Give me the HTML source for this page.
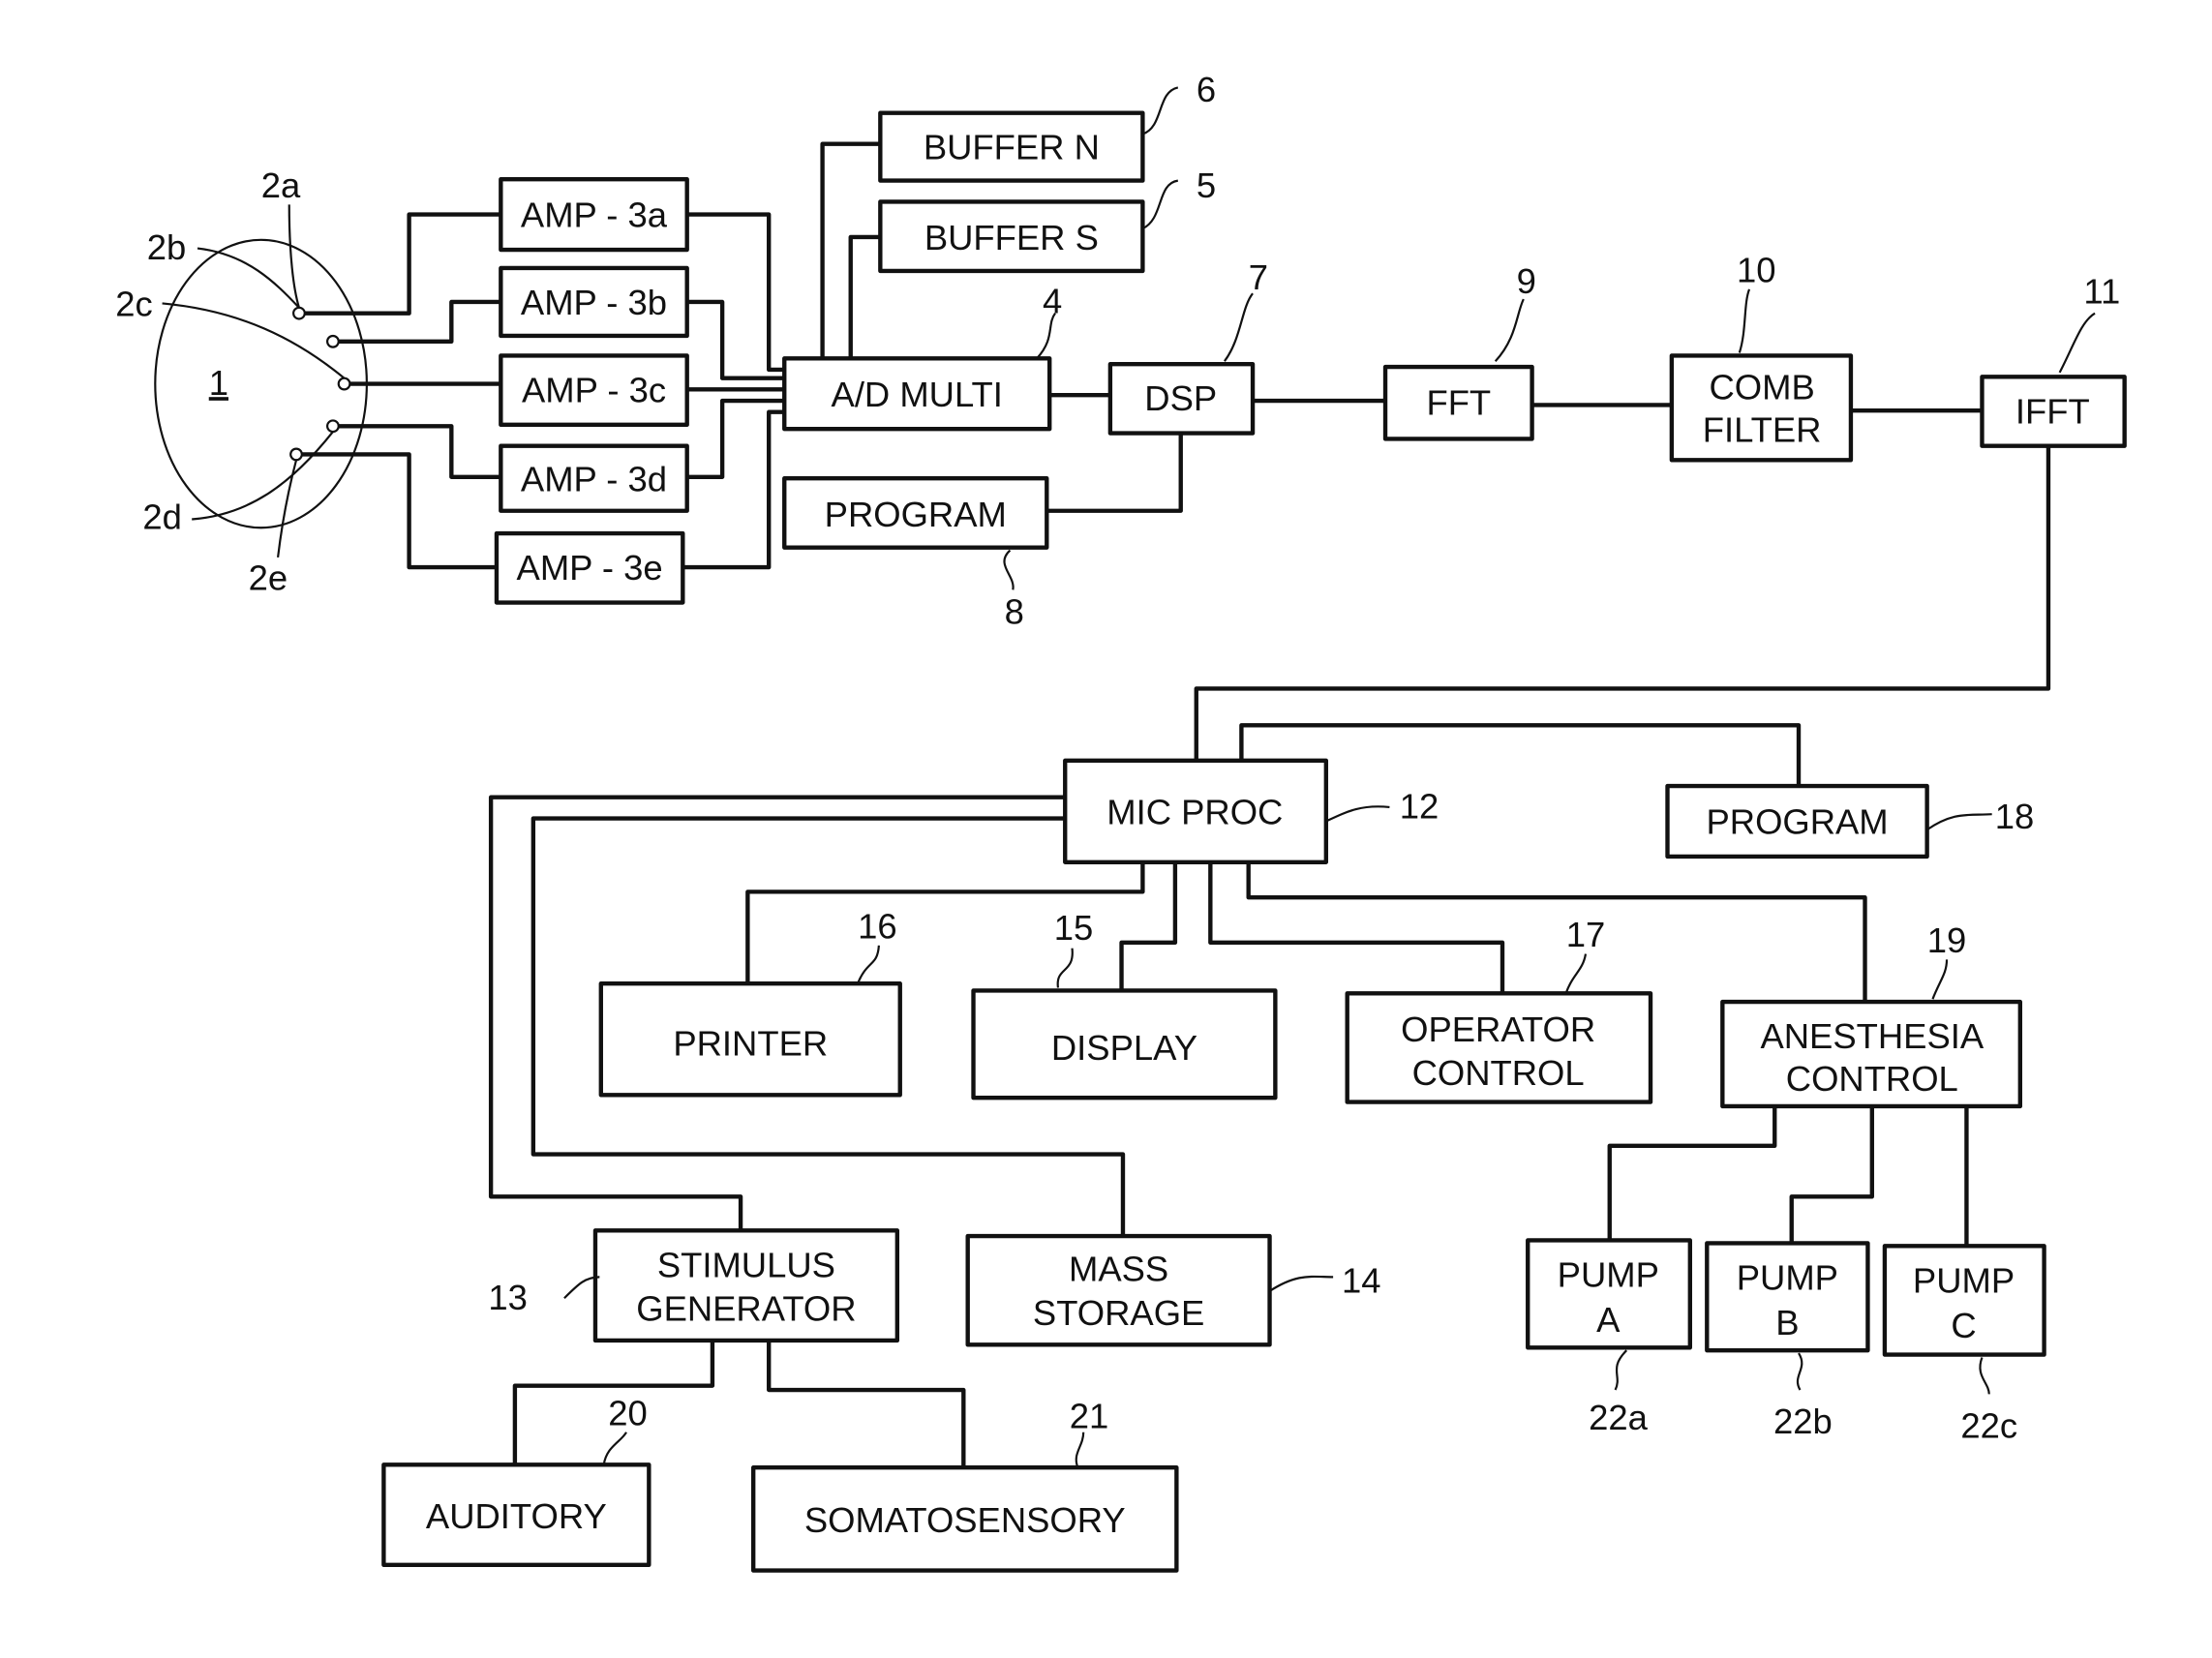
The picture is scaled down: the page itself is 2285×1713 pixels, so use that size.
<!DOCTYPE html>
<html><head><meta charset="utf-8"><style>
html,body{margin:0;padding:0;background:#fff;}
svg{display:block;}
text{font-family:"Liberation Sans",sans-serif;fill:#111;}
</style></head><body>
<svg width="2285" height="1713" viewBox="0 0 1568 1175" preserveAspectRatio="none" xmlns="http://www.w3.org/2000/svg">
<g fill="none" stroke="#111" stroke-width="3" stroke-linejoin="round">
<rect x="355" y="127" width="132" height="50"/>
<rect x="355" y="190" width="132" height="48"/>
<rect x="355" y="252" width="132" height="49"/>
<rect x="355" y="316" width="132" height="46"/>
<rect x="352" y="378" width="132" height="49"/>
<rect x="624" y="80" width="186" height="48"/>
<rect x="624" y="143" width="186" height="49"/>
<rect x="556" y="254" width="188" height="50"/>
<rect x="787" y="258" width="101" height="49"/>
<rect x="556" y="339" width="186" height="49"/>
<rect x="982" y="260" width="104" height="51"/>
<rect x="1185" y="252" width="127" height="74"/>
<rect x="1405" y="267" width="101" height="49"/>
<rect x="755" y="539" width="185" height="72"/>
<rect x="1182" y="557" width="184" height="50"/>
<rect x="426" y="697" width="212" height="79"/>
<rect x="690" y="702" width="214" height="76"/>
<rect x="955" y="704" width="215" height="77"/>
<rect x="1221" y="710" width="211" height="74"/>
<rect x="422" y="872" width="214" height="78"/>
<rect x="686" y="876" width="214" height="77"/>
<rect x="1083" y="879" width="115" height="76"/>
<rect x="1210" y="881" width="114" height="76"/>
<rect x="1336" y="883" width="113" height="77"/>
<rect x="272" y="1038" width="188" height="71"/>
<rect x="534" y="1040" width="300" height="73"/>
<ellipse cx="185" cy="272" rx="75" ry="102" stroke-width="1.5"/>
<g stroke-width="1.5"><circle cx="212" cy="222" r="4"/><circle cx="236" cy="242" r="4"/><circle cx="244" cy="272" r="4"/><circle cx="236" cy="302" r="4"/><circle cx="210" cy="322" r="4"/></g>
<path d="M216 222H290V152H355"/>
<path d="M240 242H320V214H355"/>
<path d="M248 272H355"/>
<path d="M240 302H320V338H355"/>
<path d="M214 322H290V402H352"/>
<path d="M487 152H545V262H556"/>
<path d="M487 214H512V268H556"/>
<path d="M487 276H556"/>
<path d="M487 338H512V284H556"/>
<path d="M484 402H545V292H556"/>
<path d="M583 254V102H624"/>
<path d="M603 254V168H624"/>
<path d="M744 280H787"/>
<path d="M888 284H982"/>
<path d="M1086 287H1185"/>
<path d="M1312 291H1405"/>
<path d="M837 307V362H742"/>
<path d="M1452 316V488H848V539"/>
<path d="M880 539V514H1275V557"/>
<path d="M755 565H348V848H525V872"/>
<path d="M755 580H378V818H796V876"/>
<path d="M810 611V632H530V697"/>
<path d="M833 611V668H795V702"/>
<path d="M858 611V668H1065V704"/>
<path d="M885 611V636H1322V710"/>
<path d="M1258 784V812H1141V879"/>
<path d="M1327 784V848H1270V881"/>
<path d="M1394 784V883"/>
<path d="M505 950V982H365V1038"/>
<path d="M545 950V985H683V1040"/>
</g>
<g fill="none" stroke="#111" stroke-width="1.5">
<path d="M140 176C175 180 195 200 212 218"/>
<path d="M115 215C170 220 210 240 244 268"/>
<path d="M205 145C205 180 208 205 212 218"/>
<path d="M136 368C175 365 205 345 236 306"/>
<path d="M197 395C200 370 205 345 210 326"/>
<path d="M810 95C825 90 820 65 835 62"/>
<path d="M810 162C825 155 820 130 835 128"/>
<path d="M735 254C748 240 742 230 748 222"/>
<path d="M868 256C880 240 880 218 888 208"/>
<path d="M1060 256C1075 240 1075 222 1080 212"/>
<path d="M1233 250C1238 235 1236 215 1240 205"/>
<path d="M1460 264C1470 245 1475 228 1485 222"/>
<path d="M716 390C705 400 720 408 718 418"/>
<path d="M940 582C955 575 965 570 985 572"/>
<path d="M1366 588C1385 575 1395 578 1412 577"/>
<path d="M608 697C615 680 622 685 623 670"/>
<path d="M750 700C748 685 762 690 760 672"/>
<path d="M1110 704C1115 690 1122 688 1124 676"/>
<path d="M1370 708C1375 695 1380 690 1380 680"/>
<path d="M400 920C410 910 415 905 425 905"/>
<path d="M900 915C920 902 930 905 945 905"/>
<path d="M428 1038C430 1025 440 1022 444 1015"/>
<path d="M764 1040C760 1030 768 1025 768 1015"/>
<path d="M1153 957C1140 970 1150 975 1145 985"/>
<path d="M1275 959C1282 970 1270 975 1276 985"/>
<path d="M1405 962C1400 975 1410 980 1410 988"/>
</g>
<g font-size="25" text-anchor="middle">
<text x="421" y="161">AMP - 3a</text>
<text x="421" y="223">AMP - 3b</text>
<text x="421" y="285">AMP - 3c</text>
<text x="421" y="348">AMP - 3d</text>
<text x="418" y="411">AMP - 3e</text>
<text x="717" y="113">BUFFER N</text>
<text x="717" y="177">BUFFER S</text>
<text x="650" y="288">A/D MULTI</text>
<text x="837" y="291">DSP</text>
<text x="649" y="373">PROGRAM</text>
<text x="1034" y="294">FFT</text>
<text x="1249" y="283">COMB</text>
<text x="1249" y="313">FILTER</text>
<text x="1455" y="300">IFFT</text>
<text x="847" y="584">MIC PROC</text>
<text x="1274" y="591">PROGRAM</text>
<text x="532" y="748">PRINTER</text>
<text x="797" y="751">DISPLAY</text>
<text x="1062" y="738">OPERATOR</text>
<text x="1062" y="769">CONTROL</text>
<text x="1327" y="743">ANESTHESIA</text>
<text x="1327" y="773">CONTROL</text>
<text x="529" y="905">STIMULUS</text>
<text x="529" y="936">GENERATOR</text>
<text x="793" y="908">MASS</text>
<text x="793" y="939">STORAGE</text>
<text x="1140" y="912">PUMP</text>
<text x="1140" y="944">A</text>
<text x="1267" y="914">PUMP</text>
<text x="1267" y="946">B</text>
<text x="1392" y="916">PUMP</text>
<text x="1392" y="948">C</text>
<text x="366" y="1083">AUDITORY</text>
<text x="684" y="1086">SOMATOSENSORY</text>
<text x="199" y="140">2a</text>
<text x="118" y="184">2b</text>
<text x="95" y="224">2c</text>
<text x="115" y="375">2d</text>
<text x="190" y="418">2e</text>
<text x="155" y="280" text-decoration="underline">1</text>
<text x="855" y="72">6</text>
<text x="855" y="140">5</text>
<text x="746" y="222">4</text>
<text x="892" y="205">7</text>
<text x="1082" y="208">9</text>
<text x="1245" y="200">10</text>
<text x="1490" y="215">11</text>
<text x="719" y="442">8</text>
<text x="1006" y="580">12</text>
<text x="1428" y="587">18</text>
<text x="622" y="665">16</text>
<text x="761" y="666">15</text>
<text x="1124" y="671">17</text>
<text x="1380" y="675">19</text>
<text x="360" y="928">13</text>
<text x="965" y="916">14</text>
<text x="445" y="1010">20</text>
<text x="772" y="1012">21</text>
<text x="1147" y="1013">22a</text>
<text x="1278" y="1016">22b</text>
<text x="1410" y="1019">22c</text>
</g>
</svg>
</body></html>
